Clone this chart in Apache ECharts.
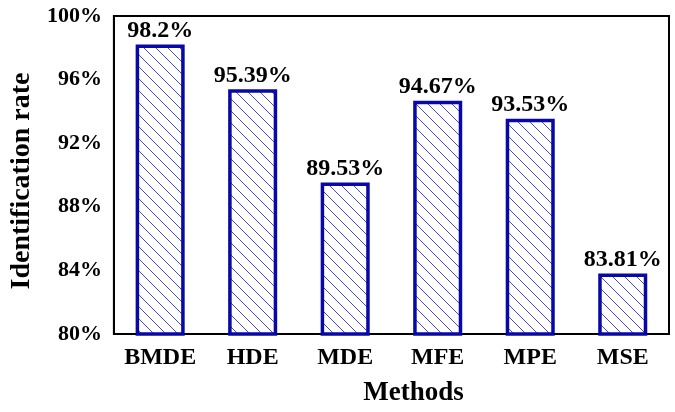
<!DOCTYPE html>
<html><head><meta charset="utf-8">
<script src="https://cdn.jsdelivr.net/npm/echarts@6/dist/echarts.min.js"></script>
<style>html,body{margin:0;padding:0;background:#fff}#c{width:675px;height:412px}</style>
</head><body><div id="c"></div>
<script>
const categories = ['BMDE','HDE','MDE','MFE','MPE','MSE'];
const values = [98.2, 95.39, 89.53, 94.67, 93.53, 83.81];
const labels = ['98.2%','95.39%','89.53%','94.67%','93.53%','83.81%'];
const yTicks = [80, 84, 88, 92, 96, 100];

const S = 12;
const pc = document.createElement('canvas');
pc.width = S; pc.height = S;
const g = pc.getContext('2d');
g.fillStyle = '#fff'; g.fillRect(0,0,S,S);
g.strokeStyle = '#4a4ad0'; g.lineWidth = 1;
for (const o of [-S, 0, S]) { g.beginPath(); g.moveTo(o-2,-2); g.lineTo(o+S+2,S+2); g.stroke(); }

const font = 'Liberation Serif';
const chart = echarts.init(document.getElementById('c'));
chart.setOption({
  animation: false,
  grid: {left: 110, right: 6, top: 16, bottom: 76, show: true, borderColor: '#000', borderWidth: 2},
  xAxis: {
    type: 'category', data: categories,
    name: 'Methods', nameLocation: 'middle', nameGap: 46,
    nameTextStyle: {fontFamily: font, fontWeight: 'bold', fontSize: 27, color: '#000', padding: [0, 0, 0, 44]},
    axisLine: {lineStyle: {color: '#000', width: 2}},
    axisTick: {inside: true, alignWithLabel: true, length: 6, lineStyle: {color: '#000', width: 1.5}},
    axisLabel: {interval: 0, fontFamily: font, fontWeight: 'bold', fontSize: 24, color: '#000', margin: 12}
  },
  yAxis: {
    type: 'value', min: 80, max: 100, interval: 4,
    name: 'Identification rate', nameLocation: 'middle', nameGap: 71,
    nameTextStyle: {fontFamily: font, fontWeight: 'bold', fontSize: 28, color: '#000', padding: [0, 12, 0, 0]},
    splitLine: {show: false},
    axisLine: {show: true, lineStyle: {color: '#000', width: 2}},
    axisTick: {inside: true, length: 8, lineStyle: {color: '#000', width: 1.5}},
    axisLabel: {fontFamily: font, fontWeight: 'bold', fontSize: 22, color: '#000', margin: 12,
      formatter: v => v + '%'}
  },
  series: [{
    type: 'bar', data: values, barWidth: '53%',
    itemStyle: {color: {image: pc, repeat: 'repeat'}, borderColor: '#0808a6', borderWidth: 3.5},
    label: {show: true, position: 'top', distance: 2, fontFamily: font, fontWeight: 'bold', fontSize: 24, color: '#000',
      formatter: p => labels[p.dataIndex]}
  }]
});
</script></body></html>
